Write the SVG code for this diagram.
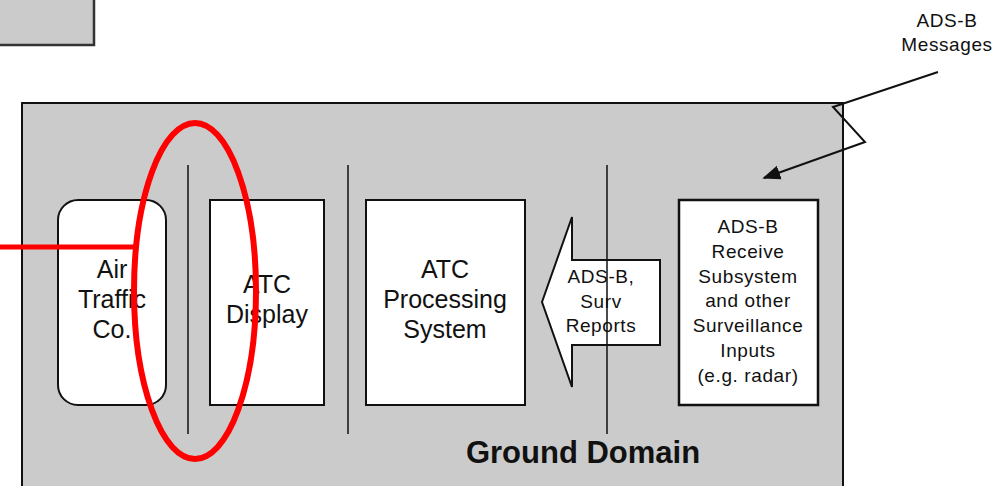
<svg xmlns="http://www.w3.org/2000/svg" width="1001" height="486" viewBox="0 0 1001 486">
<defs>
<style>
.t{font-family:"Liberation Sans",Arial,sans-serif;fill:#111;text-anchor:middle}
.big{font-size:25px}
.sm{font-size:19px;letter-spacing:0.6px}
.box{fill:#fff;stroke:#111;stroke-width:2}
.sep{stroke:#111;stroke-width:1.5}
</style>
<marker id="ah" viewBox="0 0 10 10" refX="9" refY="5" markerWidth="9" markerHeight="9" orient="auto" markerUnits="strokeWidth">
<path d="M0,1 L10,5 L0,9 Z" fill="#111"/>
</marker>
</defs>
<rect width="1001" height="486" fill="#fff"/>
<g id="corner-box">
<rect x="-5" y="-5" width="99" height="50" fill="#cbcbcb" stroke="#333" stroke-width="2.5"/>
</g>
<g id="ground-domain">
<rect x="22" y="103" width="821" height="390" fill="#cbcbcb" stroke="#111" stroke-width="2"/>
<text class="t" x="583" y="463" font-size="31" font-weight="bold">Ground Domain</text>
</g>
<g id="air-traffic">
<rect class="box" x="58" y="200" width="108" height="205" rx="20" ry="20"/>
<text class="t big"><tspan x="112" y="278">Air</tspan><tspan x="112" y="308">Traffic</tspan><tspan x="112" y="338">Co.</tspan></text>
</g>
<g id="atc-display">
<rect class="box" x="210" y="200" width="114" height="205"/>
<text class="t big"><tspan x="267" y="293">ATC</tspan><tspan x="267" y="323">Display</tspan></text>
</g>
<g id="atc-processing">
<rect class="box" x="366" y="200" width="159" height="205"/>
<text class="t big"><tspan x="445" y="278">ATC</tspan><tspan x="445" y="308">Processing</tspan><tspan x="445" y="338">System</tspan></text>
</g>
<g id="reports-arrow">
<polygon points="542,302 572,217 572,260 660,260 660,345 572,345 572,387" fill="#fff" stroke="#111" stroke-width="2"/>
<text class="t sm" font-size="20"><tspan x="601" y="283">ADS-B,</tspan><tspan x="601" y="308">Surv</tspan><tspan x="601" y="332">Reports</tspan></text>
</g>
<g id="ads-b-receive">
<rect x="679" y="200" width="139" height="205" fill="#fff" stroke="#111" stroke-width="2.5"/>
<text class="t sm"><tspan x="748" y="233">ADS-B</tspan><tspan x="748" y="258">Receive</tspan><tspan x="748" y="283">Subsystem</tspan><tspan x="748" y="307">and other</tspan><tspan x="748" y="332">Surveillance</tspan><tspan x="748" y="357">Inputs</tspan><tspan x="748" y="382">(e.g. radar)</tspan></text>
</g>
<g id="ads-b-messages">
<text class="t sm"><tspan x="947" y="27">ADS-B</tspan><tspan x="947" y="51">Messages</tspan></text>
</g>
<g id="connectors">
<line class="sep" x1="188" y1="165" x2="188" y2="434"/>
<line class="sep" x1="348" y1="165" x2="348" y2="434"/>
<line class="sep" x1="607" y1="165" x2="607" y2="434"/>
<polyline points="938,72 833,107 865,142 764,178" fill="none" stroke="#111" stroke-width="2" marker-end="url(#ah)"/>
<line x1="0" y1="247" x2="135" y2="247" stroke="#f00" stroke-width="5"/>
<ellipse cx="195" cy="291" rx="61" ry="168" fill="none" stroke="#f00" stroke-width="6"/>
</g>
</svg>
